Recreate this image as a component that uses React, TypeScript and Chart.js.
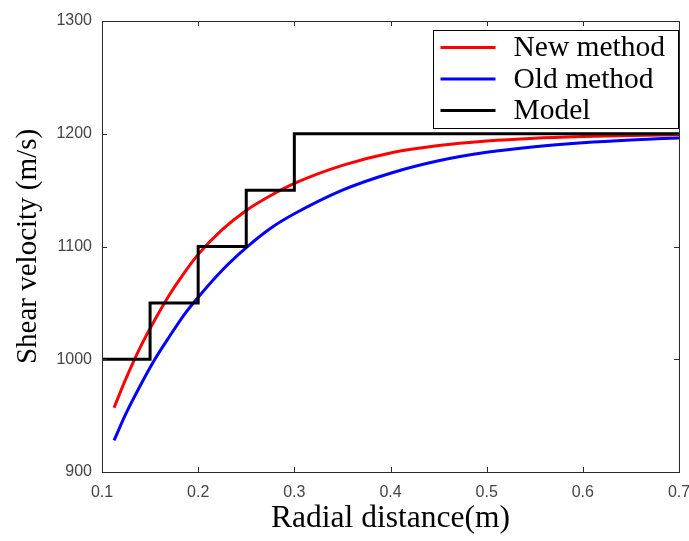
import React, { useEffect, useRef } from "react";
import { Chart, registerables } from "chart.js";

Chart.register(...registerables);

// ---- data ----
const newR = [0.1125, 0.125, 0.14, 0.155, 0.17, 0.185, 0.2, 0.225, 0.25, 0.275, 0.3, 0.35, 0.4, 0.45, 0.5, 0.55, 0.6, 0.65, 0.7];
const newV = [957, 983, 1011, 1035, 1057, 1076, 1093, 1115, 1132, 1145, 1156, 1172, 1183, 1189.5, 1193.5, 1196, 1197.5, 1198.5, 1199.2];

const oldR = [0.1125, 0.125, 0.14, 0.155, 0.17, 0.185, 0.2, 0.225, 0.25, 0.275, 0.3, 0.35, 0.4, 0.45, 0.5, 0.55, 0.6, 0.65, 0.7];
const oldV = [928, 952, 977, 1000, 1020, 1039, 1055, 1079, 1099, 1116, 1129, 1150, 1165, 1176, 1183.5, 1188.5, 1192, 1194.5, 1196.3];

const modelR = [0.1, 0.15, 0.2, 0.25, 0.3, 0.7];
const modelV = [1000, 1050, 1100, 1150, 1200, 1200];

const xTicks = [0.1, 0.2, 0.3, 0.4, 0.5, 0.6, 0.7];
const yTicks = [900, 1000, 1100, 1200, 1300];

const seriesLabels = ["New method", "Old method", "Model"];
const seriesColors = ["#ff0000", "#0000ff", "#000000"];

const SERIF = "'Liberation Serif', 'Times New Roman', serif";
const SANS = "'Liberation Sans', Arial, sans-serif";

const toPts = (xs: number[], ys: number[]) => xs.map((x, i) => ({ x, y: ys[i] }));

const framePlugin = {
  id: "frame",
  afterDraw(chart: any) {
    const { ctx, chartArea } = chart;
    const { left, right, top, bottom } = chartArea;
    const xs = chart.scales.x;
    const ys = chart.scales.y;
    ctx.save();
    ctx.strokeStyle = "#2a2a2a";
    ctx.lineWidth = 1;
    ctx.strokeRect(Math.round(left) + 0.5, Math.round(top) + 0.5, Math.round(right - left), Math.round(bottom - top));
    const tl = 5;
    ctx.beginPath();
    xs.ticks.forEach((t: any) => {
      const px = Math.round(xs.getPixelForValue(t.value)) + 0.5;
      ctx.moveTo(px, bottom);
      ctx.lineTo(px, bottom - tl);
      ctx.moveTo(px, top);
      ctx.lineTo(px, top + tl);
    });
    ys.ticks.forEach((t: any) => {
      const py = Math.round(ys.getPixelForValue(t.value)) + 0.5;
      ctx.moveTo(left, py);
      ctx.lineTo(left + tl, py);
      ctx.moveTo(right, py);
      ctx.lineTo(right - tl, py);
    });
    ctx.stroke();

    // legend box
    const bw = 245;
    const bh = 98;
    const bx = Math.round(right) - bw - 0.5;
    const by = Math.round(top) + 9.5;
    ctx.fillStyle = "#ffffff";
    ctx.fillRect(bx, by, bw, bh);
    ctx.strokeStyle = "#000000";
    ctx.strokeRect(bx, by, bw, bh);
    ctx.font = `29.5px ${SERIF}`;
    ctx.textBaseline = "middle";
    ctx.textAlign = "left";
    chart.data.datasets.forEach((ds: any, i: number) => {
      const cy = by + 17 + i * 31.5;
      ctx.strokeStyle = ds.borderColor;
      ctx.lineWidth = 3;
      ctx.beginPath();
      ctx.moveTo(bx + 7, cy);
      ctx.lineTo(bx + 62, cy);
      ctx.stroke();
      ctx.fillStyle = "#000000";
      ctx.fillText(ds.label, bx + 80, cy + 1);
    });
    ctx.restore();
  },
};

export default function App() {
  const ref = useRef<HTMLCanvasElement | null>(null);
  useEffect(() => {
    if (!ref.current) return;
    const chart = new Chart(ref.current, {
      type: "line",
      data: {
        datasets: [
          {
            label: seriesLabels[0],
            data: toPts(newR, newV),
            borderColor: seriesColors[0],
            borderWidth: 3,
            pointRadius: 0,
            cubicInterpolationMode: "monotone",
            fill: false,
            order: 1,
          },
          {
            label: seriesLabels[1],
            data: toPts(oldR, oldV),
            borderColor: seriesColors[1],
            borderWidth: 3,
            pointRadius: 0,
            cubicInterpolationMode: "monotone",
            fill: false,
            order: 1,
          },
          {
            label: seriesLabels[2],
            data: toPts(modelR, modelV),
            borderColor: seriesColors[2],
            borderWidth: 3,
            pointRadius: 0,
            stepped: "before",
            fill: false,
            order: 0,
          },
        ],
      } as any,
      options: {
        animation: false,
        responsive: false,
        events: [],
        layout: { padding: { top: 21, right: 10, left: 0, bottom: 0 } },
        plugins: { legend: { display: false }, tooltip: { enabled: false } },
        scales: {
          x: {
            type: "linear",
            min: 0.1,
            max: 0.7,
            afterBuildTicks: (s: any) => {
              s.ticks = xTicks.map((v) => ({ value: v }));
            },
            afterFit: (s: any) => {
              s.height = 69;
              s.paddingLeft = 0;
              s.paddingRight = 0;
            },
            grid: { display: false, drawTicks: false },
            border: { display: false },
            ticks: {
              padding: 11,
              color: "#454545",
              font: { family: SANS, size: 16 },
              callback: (v: any) => Number(v).toFixed(1),
              maxRotation: 0,
            },
            title: {
              display: true,
              text: "Radial distance(m)",
              color: "#000000",
              font: { family: SERIF, size: 31.5 },
              padding: { top: 0, bottom: 3 },
            },
          },
          y: {
            type: "linear",
            min: 900,
            max: 1300,
            afterBuildTicks: (s: any) => {
              s.ticks = yTicks.map((v) => ({ value: v }));
            },
            afterFit: (s: any) => {
              s.width = 102;
              s.paddingTop = 0;
              s.paddingBottom = 0;
            },
            grid: { display: false, drawTicks: false },
            border: { display: false },
            ticks: {
              padding: 10,
              color: "#454545",
              font: { family: SANS, size: 16 },
              callback: (v: any) => String(v),
            },
            title: {
              display: true,
              text: "Shear velocity (m/s)",
              color: "#000000",
              font: { family: SERIF, size: 29 },
              padding: { top: 11, bottom: 0 },
            },
          },
        },
      } as any,
      plugins: [framePlugin],
    });
    return () => chart.destroy();
  }, []);
  return (
    <div style={{ position: "absolute", left: 0, top: 0, width: 689, height: 541, background: "#fff" }}>
      <canvas ref={ref} width={689} height={541} style={{ width: 689, height: 541 }} />
    </div>
  );
}
